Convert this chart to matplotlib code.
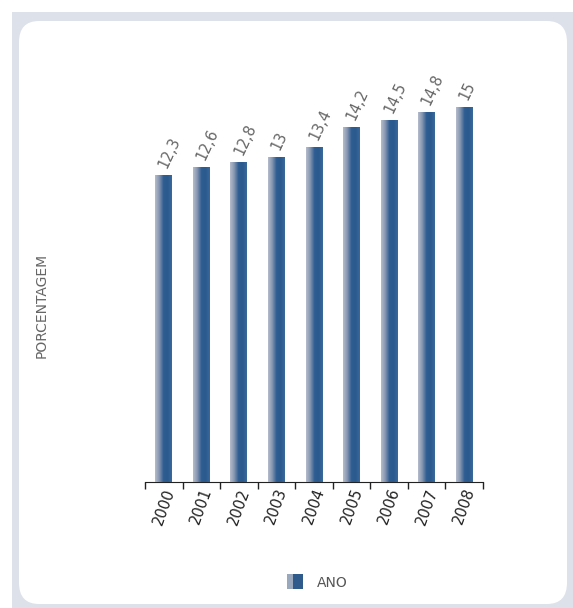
import matplotlib.pyplot as plt
import numpy as np
from matplotlib.colors import LinearSegmentedColormap
from matplotlib.patches import FancyBboxPatch, Rectangle

years = ["2000", "2001", "2002", "2003", "2004", "2005", "2006", "2007", "2008"]
values = [12.3, 12.6, 12.8, 13.0, 13.4, 14.2, 14.5, 14.8, 15.0]
value_labels = ["12,3", "12,6", "12,8", "13", "13,4", "14,2", "14,5", "14,8", "15"]

fig = plt.figure(figsize=(5.73, 6.08), dpi=100)
fig.patch.set_facecolor("white")

# panel background (behind the axes)
fig.patches.append(Rectangle((12 / 573, 0), 561 / 573, 1 - 12 / 608,
                             transform=fig.transFigure, facecolor="#dde1ea",
                             edgecolor="none", zorder=-2))
fig.patches.append(FancyBboxPatch((19 / 573, 4 / 608), 548 / 573, 583 / 608,
                                  boxstyle="round,pad=0,rounding_size=0.035",
                                  transform=fig.transFigure, facecolor="white",
                                  edgecolor="none", zorder=-1))

ax = fig.add_axes([145 / 573, 1 - 482 / 608, 338 / 573, 400 / 608])
ax.set_zorder(2)
ax.set_facecolor("none")
x = np.arange(len(years))
bars = ax.bar(x, values, width=0.45, color="#2f5b8c", zorder=2)

# gradient fill: light grey on the left edge, dark blue on the right
grad = np.linspace(0, 1, 64).reshape(1, -1)
cmap = LinearSegmentedColormap.from_list(
    "bar", ["#b3bccb", "#8596b0", "#2f5d92", "#2a5a8e", "#3a6a9c"])
for b in bars:
    im = ax.imshow(grad, cmap=cmap, aspect="auto", zorder=3,
                   extent=[b.get_x(), b.get_x() + b.get_width(), 0, b.get_height()])
    im.set_clip_path(b)

for xi, v, lab in zip(x, values, value_labels):
    ax.text(xi - 0.02, v + 0.3, lab, rotation=65, ha="left", va="center",
            fontsize=10.5, color="#666666", rotation_mode="anchor")

ax.set_xlim(-0.5, len(years) - 0.5)
ax.set_ylim(0, 16)
ax.set_xticks(np.arange(-0.5, len(years), 1.0))
ax.set_xticklabels([])
ax.set_xticks(x, minor=True)
ax.set_xticklabels(years, minor=True, rotation=70, fontsize=10.5, color="#222222",
                   ha="center", va="top")
ax.tick_params(axis="x", which="major", length=5, width=1, color="#222222", direction="out")
ax.tick_params(axis="x", which="minor", length=0, pad=3)
ax.set_yticks([])
for s in ["top", "right", "left"]:
    ax.spines[s].set_visible(False)
ax.spines["bottom"].set_color("#222222")

fig.text(42 / 573, 1 - 305 / 608, "PORCENTAGEM", rotation=90, ha="center",
         va="center", fontsize=10, color="#666666")

# legend
fig.patches.append(Rectangle((287 / 573, 1 - 589 / 608), 16 / 573, 15 / 608,
                             transform=fig.transFigure, facecolor="#2f5b8c",
                             edgecolor="none", zorder=3))
fig.patches.append(Rectangle((287 / 573, 1 - 589 / 608), 6 / 573, 15 / 608,
                             transform=fig.transFigure, facecolor="#9aa8bd",
                             edgecolor="none", zorder=4))
fig.text(317 / 573, 1 - 583 / 608, "ANO", ha="left", va="center",
         fontsize=10, color="#555555")

fig.savefig("out.png", dpi=100)
